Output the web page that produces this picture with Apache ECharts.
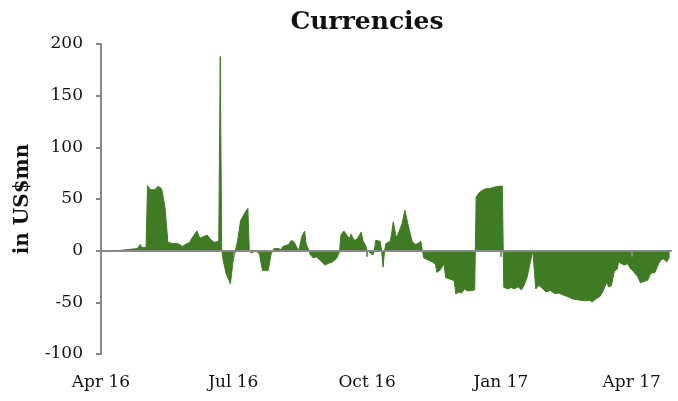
<!DOCTYPE html>
<html>
<head>
<meta charset="utf-8">
<script src="https://cdn.jsdelivr.net/npm/echarts@6/dist/echarts.min.js"></script>
<style>
  html, body { margin: 0; padding: 0; background: #fff; }
  #chart { width: 678px; height: 401px; }
</style>
</head>
<body>
<div id="chart"></div>
<script>
// flows, in US$mn
var dates = [
  '2016-04-12','2016-04-26','2016-04-28','2016-04-29','2016-05-02','2016-05-03','2016-05-05','2016-05-08',
  '2016-05-10','2016-05-12','2016-05-13','2016-05-15','2016-05-17','2016-05-20','2016-05-23','2016-05-25',
  '2016-05-27','2016-05-29','2016-06-01','2016-06-02','2016-06-06','2016-06-08','2016-06-11','2016-06-13',
  '2016-06-16','2016-06-18','2016-06-21','2016-06-22','2016-06-23','2016-06-24','2016-06-26','2016-06-29',
  '2016-06-30','2016-07-01','2016-07-02','2016-07-04','2016-07-06','2016-07-09','2016-07-11','2016-07-12',
  '2016-07-14','2016-07-16','2016-07-19','2016-07-21','2016-07-25','2016-07-27','2016-07-29','2016-08-01',
  '2016-08-03','2016-08-04','2016-08-08','2016-08-10','2016-08-12','2016-08-13','2016-08-15','2016-08-17',
  '2016-08-19','2016-08-20','2016-08-22','2016-08-23','2016-08-25','2016-08-27','2016-08-31','2016-09-02',
  '2016-09-04','2016-09-07','2016-09-10','2016-09-12','2016-09-13','2016-09-15','2016-09-17','2016-09-19',
  '2016-09-20','2016-09-22','2016-09-24','2016-09-27','2016-09-28','2016-09-30','2016-10-01','2016-10-03',
  '2016-10-05','2016-10-06','2016-10-07','2016-10-10','2016-10-11','2016-10-12','2016-10-13','2016-10-14',
  '2016-10-17','2016-10-18','2016-10-19','2016-10-21','2016-10-22','2016-10-25','2016-10-27','2016-10-28',
  '2016-10-30','2016-11-01','2016-11-03','2016-11-05','2016-11-07','2016-11-08','2016-11-09','2016-11-12',
  '2016-11-15','2016-11-17','2016-11-18','2016-11-20','2016-11-23','2016-11-24','2016-11-27','2016-11-30',
  '2016-12-01','2016-12-03','2016-12-05','2016-12-07','2016-12-09','2016-12-12','2016-12-14','2016-12-15',
  '2016-12-17','2016-12-20','2016-12-22','2016-12-24','2016-12-29','2017-01-02','2017-01-03','2017-01-06',
  '2017-01-08','2017-01-10','2017-01-13','2017-01-15','2017-01-17','2017-01-19','2017-01-22','2017-01-23',
  '2017-01-24','2017-01-25','2017-01-27','2017-01-30','2017-02-01','2017-02-04','2017-02-07','2017-02-10',
  '2017-02-13','2017-02-16','2017-02-17','2017-02-20','2017-02-25','2017-02-28','2017-03-03','2017-03-05',
  '2017-03-08','2017-03-10','2017-03-12','2017-03-15','2017-03-16','2017-03-18','2017-03-20','2017-03-22',
  '2017-03-23','2017-03-24','2017-03-27','2017-03-29','2017-03-31','2017-04-02','2017-04-05','2017-04-07',
  '2017-04-09','2017-04-12','2017-04-14','2017-04-17','2017-04-19','2017-04-21','2017-04-23','2017-04-25',
  '2017-04-26','2017-04-27'
];
var values = [
  0, 2, 6, 3, 3, 63, 59, 59,
  62, 61, 58, 42, 8, 7, 7, 6,
  4, 6, 8, 11, 19, 12, 14, 15,
  10, 8, 9, 188, 1, -9, -22, -32,
  -33, -8, -3, 10, 29, 37, 41, -1,
  -2, 0, -3, -19, -19, -3, 2, 2,
  1, 4, 6, 10, 8, 5, 0, 13,
  19, 7, 0, -4, -7, -6, -11, -14,
  -12.5, -11, -7.5, -1, 15, 19, 15, 12,
  16, 10, 11, 18, 10, 5, 0, -2,
  -4, 0, 10, 9, 0, -16, 0, 7,
  9, 18, 28, 13, 15, 26, 39, 38,
  20, 9, 6, 7, 9, 0, -7, -9,
  -11, -13, -21, -19, -13, -26, -27.5, -29,
  -42, -40, -41, -37, -39, -38.5, -38, 52,
  56, 59, 60, 60, 62, 62.5, -35.5, -37,
  -35.5, -37, -35, -38, -33.5, -26, -6, 0,
  -19, -37, -33.5, -37, -40, -38.5, -41.5, -41,
  -43, -44.5, -44.5, -47, -48, -48.5, -48, -49.5,
  -46, -44.5, -40, -30, -35, -34, -20, -18,
  -10, -12, -14, -12.5, -17, -20, -25, -31,
  -30, -28.5, -22, -21, -14, -9, -8, -11,
  -12, -6
];
var tickDates = ['2016-04-01', '2016-07-01', '2016-10-01', '2017-01-01', '2017-04-01'];
var tickLabels = ['Apr 16', 'Jul 16', 'Oct 16', 'Jan 17', 'Apr 17'];
var yTicks = [-100, -50, 0, 50, 100, 150, 200];

function toTime(s) {
  var p = s.split('-');
  return new Date(+p[0], +p[1] - 1, +p[2]).getTime();
}

var tickTimes = tickDates.map(toTime);
var seriesData = dates.map(function (d, i) { return [toTime(d), values[i]]; });
var xMin = toTime('2016-04-01');
var xMax = toTime('2017-04-28');

var FONT = 'DejaVu Serif';
var GREY = '#888888';
var GREEN = '#3e7b22';

function quarterLabel(v) {
  var i = tickTimes.indexOf(v);
  return i >= 0 ? tickLabels[i] : '';
}

var chart = echarts.init(document.getElementById('chart'));
chart.setOption({
  animation: false,
  title: {
    text: 'Currencies',
    left: 362,
    textAlign: 'center',
    top: 5,
    textStyle: { fontFamily: FONT, fontWeight: 'bold', fontSize: 25, color: '#111' }
  },
  grid: { left: 101, right: 7, top: 44, bottom: 47 },
  xAxis: [
    {
      // zero line with quarter ticks
      type: 'value',
      min: xMin,
      max: xMax,
      position: 'bottom',
      z: 10,
      axisLine: { onZero: true, lineStyle: { color: GREY, width: 2 } },
      axisTick: { show: true, length: 6, lineStyle: { color: GREY, width: 2 }, customValues: tickTimes.slice(1) },
      axisLabel: { show: false },
      splitLine: { show: false }
    },
    {
      // labels along the bottom
      type: 'value',
      min: xMin,
      max: xMax,
      position: 'bottom',
      axisLine: { show: false, onZero: false },
      axisTick: { show: false },
      splitLine: { show: false },
      axisLabel: {
        show: true,
        margin: 20,
        fontFamily: FONT,
        fontSize: 17,
        color: '#111',
        customValues: tickTimes,
        formatter: quarterLabel
      }
    }
  ],
  yAxis: {
    type: 'value',
    min: yTicks[0],
    max: yTicks[yTicks.length - 1],
    interval: 50,
    z: 10,
    name: 'in US$mn',
    nameLocation: 'middle',
    nameGap: 68,
    nameTextStyle: { fontFamily: FONT, fontWeight: 'bold', fontSize: 20, color: '#111' },
    axisLine: { show: true, lineStyle: { color: GREY, width: 2 } },
    axisTick: { show: true, length: 5, lineStyle: { color: GREY, width: 2 } },
    axisLabel: { margin: 18, fontFamily: FONT, fontSize: 17, color: '#111' },
    splitLine: { show: false }
  },
  series: [{
    type: 'line',
    xAxisIndex: 0,
    data: seriesData,
    showSymbol: false,
    lineStyle: { color: GREEN, width: 1 },
    itemStyle: { color: GREEN },
    areaStyle: { color: GREEN, opacity: 1 }
  }]
});
</script>
</body>
</html>
